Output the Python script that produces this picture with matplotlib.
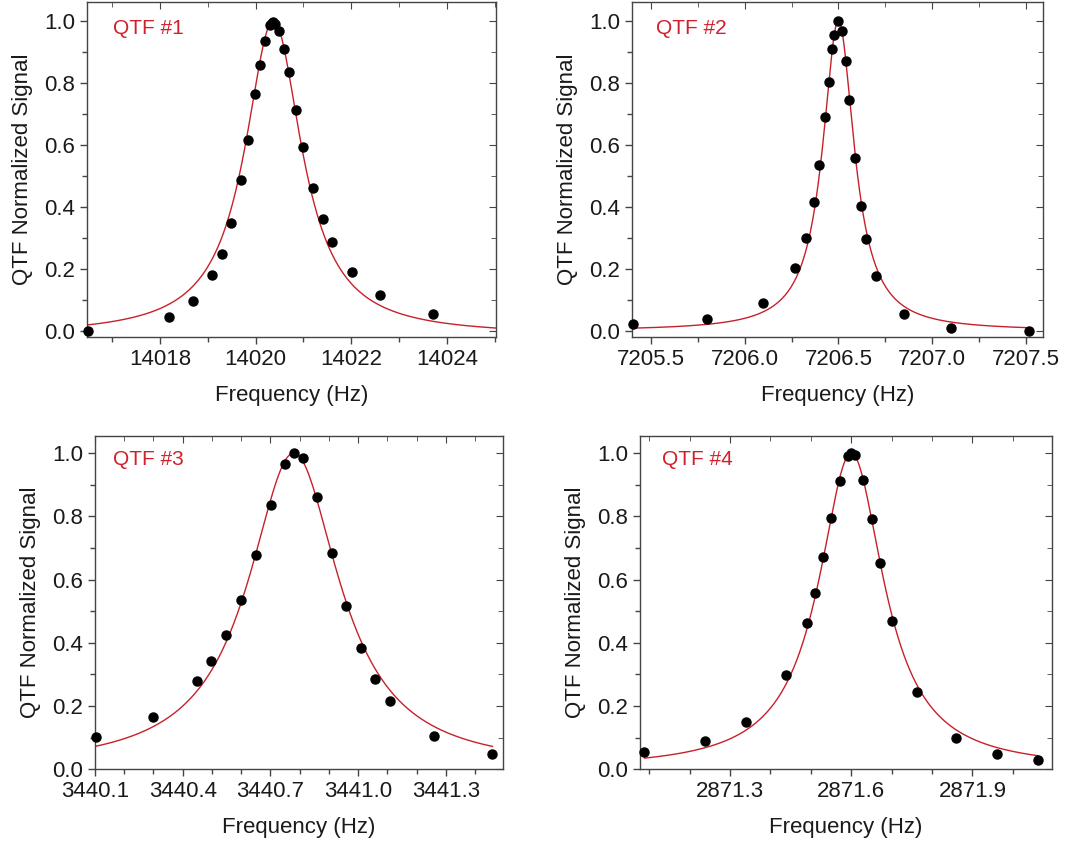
import numpy as np
import matplotlib
matplotlib.rcParams['font.family'] = ['Liberation Sans', 'DejaVu Sans']
matplotlib.rcParams['font.size'] = 16
import matplotlib.pyplot as plt
from matplotlib.ticker import FixedLocator, FormatStrFormatter
plt.switch_backend('agg')

# QTF #1
f1 = [14016.49, 14018.19, 14018.68, 14019.09, 14019.29, 14019.49, 14019.70, 14019.85,
      14019.99, 14020.10, 14020.20, 14020.29, 14020.34, 14020.37, 14020.41, 14020.49,
      14020.59, 14020.70, 14020.84, 14021.00, 14021.20, 14021.40, 14021.60, 14022.01,
      14022.61, 14023.71]
s1 = [0.000, 0.044, 0.097, 0.180, 0.249, 0.349, 0.486, 0.615, 0.762, 0.856, 0.934, 0.986,
      0.991, 0.997, 0.990, 0.966, 0.910, 0.836, 0.712, 0.593, 0.461, 0.361, 0.286, 0.189,
      0.114, 0.054]
# QTF #2
f2 = [7205.404, 7205.801, 7206.100, 7206.269, 7206.327, 7206.368, 7206.399, 7206.429,
      7206.450, 7206.468, 7206.477, 7206.500, 7206.521, 7206.539, 7206.559, 7206.589,
      7206.619, 7206.649, 7206.698, 7206.851, 7207.100, 7207.518]
s2 = [0.023, 0.039, 0.090, 0.204, 0.299, 0.415, 0.535, 0.688, 0.803, 0.910, 0.954, 0.999,
      0.965, 0.871, 0.745, 0.556, 0.403, 0.295, 0.178, 0.053, 0.010, -0.002]
# QTF #3
f3 = [3440.102, 3440.300, 3440.449, 3440.498, 3440.549, 3440.600, 3440.650, 3440.701,
      3440.750, 3440.780, 3440.811, 3440.861, 3440.911, 3440.960, 3441.009, 3441.059,
      3441.108, 3441.259, 3441.459]
s3 = [0.101, 0.166, 0.278, 0.341, 0.425, 0.536, 0.679, 0.835, 0.966, 1.000, 0.983, 0.861,
      0.683, 0.515, 0.383, 0.287, 0.217, 0.106, 0.048]
# QTF #4
f4 = [2871.088, 2871.239, 2871.340, 2871.439, 2871.490, 2871.510, 2871.531, 2871.550,
      2871.572, 2871.591, 2871.600, 2871.609, 2871.630, 2871.651, 2871.670, 2871.700,
      2871.762, 2871.860, 2871.961, 2872.062]
s4 = [0.054, 0.091, 0.150, 0.298, 0.464, 0.558, 0.671, 0.796, 0.912, 0.991, 1.000, 0.993,
      0.916, 0.791, 0.651, 0.470, 0.244, 0.099, 0.050, 0.028]

# lorentz fit parameters: center, fwhm, offset
fit_f0 = [14020.37, 7206.50, 3440.78, 2871.60]
fit_w = [1.45, 0.205, 0.38, 0.196]
fit_y0 = [-0.015, 0.0, 0.0, 0.0]
fit_range = [(14016.47, 14025.03), (7205.40, 7207.52), (3440.10, 3441.46), (2871.088, 2872.062)]

names = ['QTF #1', 'QTF #2', 'QTF #3', 'QTF #4']
xlims = [(14016.47, 14025.03), (7205.397, 7207.593), (3440.1, 3441.497), (2871.077, 2872.096)]
ylims = [(-0.02, 1.06), (-0.02, 1.06), (0.0, 1.054), (0.0, 1.054)]
xmajor = [[14018, 14020, 14022, 14024],
          [7205.5, 7206.0, 7206.5, 7207.0, 7207.5],
          [3440.1, 3440.4, 3440.7, 3441.0, 3441.3],
          [2871.3, 2871.6, 2871.9]]
xminor = [[14017, 14019, 14021, 14023, 14025],
          [7205.75, 7206.25, 7206.75, 7207.25],
          [3440.2, 3440.3, 3440.5, 3440.6, 3440.8, 3440.9, 3441.1, 3441.2, 3441.4],
          [2871.1, 2871.2, 2871.4, 2871.5, 2871.7, 2871.8, 2872.0]]
xfmt = ['%d', '%.1f', '%.1f', '%.1f']
freqs = [f1, f2, f3, f4]
sigs = [s1, s2, s3, s4]

rects = [[0.0809, 0.6002, 0.3805, 0.3974],
         [0.5876, 0.6002, 0.3829, 0.3974],
         [0.0884, 0.0874, 0.3798, 0.3954],
         [0.5953, 0.0874, 0.3830, 0.3954]]
label_xy = [(0.064, 0.95), (0.059, 0.95), (0.045, 0.958), (0.053, 0.958)]

fig = plt.figure(figsize=(10.75, 8.43), dpi=100)
for i in range(4):
    ax = fig.add_axes(rects[i])
    x0, x1 = fit_range[i]
    xx = np.linspace(x0, x1, 800)
    yy = fit_y0[i] + (1 - fit_y0[i]) / (1 + (2 * (xx - fit_f0[i]) / fit_w[i]) ** 2)
    ax.plot(xx, yy, color='#c8202a', linewidth=1.0, zorder=2)
    ax.plot(freqs[i], sigs[i], 'o', color='black', markersize=6.5, zorder=3, clip_on=False)
    ax.set_xlim(xlims[i])
    ax.set_ylim(ylims[i])
    ax.xaxis.set_major_locator(FixedLocator(xmajor[i]))
    ax.xaxis.set_minor_locator(FixedLocator(xminor[i]))
    ax.xaxis.set_major_formatter(FormatStrFormatter(xfmt[i]))
    ax.yaxis.set_major_locator(FixedLocator([0.0, 0.2, 0.4, 0.6, 0.8, 1.0]))
    ax.yaxis.set_minor_locator(FixedLocator([0.1, 0.3, 0.5, 0.7, 0.9]))
    ax.yaxis.set_major_formatter(FormatStrFormatter('%.1f'))
    ax.tick_params(which='both', direction='out', top=False, right=False,
                   color='#444444', labelcolor='#1a1a1a', labelsize=16)
    ax.tick_params(which='major', length=5, width=1)
    ax.tick_params(which='minor', length=3.5, width=1)
    # inward ticks on top and right
    sec = ax.secondary_xaxis('top')
    sec.xaxis.set_major_locator(FixedLocator(xmajor[i]))
    sec.xaxis.set_minor_locator(FixedLocator(xminor[i]))
    sec.tick_params(which='both', direction='in', labeltop=False, color='#444444')
    sec.tick_params(which='major', length=5)
    sec.tick_params(which='minor', length=3.5)
    sec.spines['top'].set_visible(False)
    secy = ax.secondary_yaxis('right')
    secy.yaxis.set_major_locator(FixedLocator([0.0, 0.2, 0.4, 0.6, 0.8, 1.0]))
    secy.yaxis.set_minor_locator(FixedLocator([0.1, 0.3, 0.5, 0.7, 0.9]))
    secy.tick_params(which='both', direction='in', labelright=False, color='#444444')
    secy.tick_params(which='major', length=5)
    secy.tick_params(which='minor', length=3.5)
    secy.spines['right'].set_visible(False)
    for sp in ax.spines.values():
        sp.set_color('#444444')
        sp.set_linewidth(1.0)
    ax.set_xlabel('Frequency (Hz)', fontsize=16, color='#1a1a1a', labelpad=11)
    ax.set_ylabel('QTF Normalized Signal', fontsize=16, color='#1a1a1a', labelpad=8)
    ax.text(label_xy[i][0], label_xy[i][1], names[i], transform=ax.transAxes,
            color='#d0202a', fontsize=15, ha='left', va='top')

fig.savefig('out.png', dpi=100)
